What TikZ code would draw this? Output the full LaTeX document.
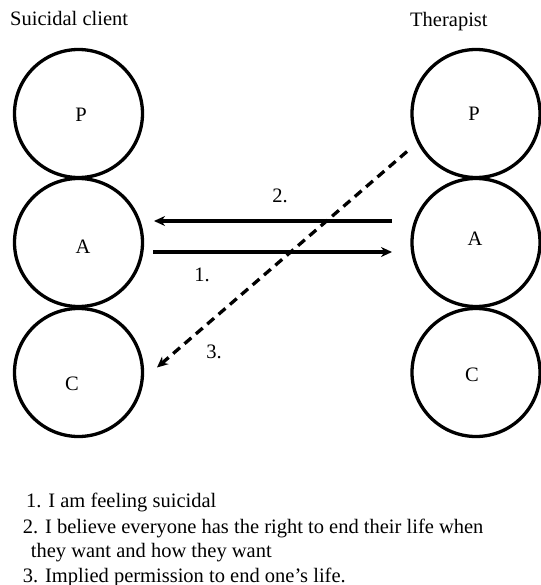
\documentclass[tikz,border=0pt]{standalone}
\usepackage{fontspec}
\setmainfont{Liberation Serif}
\usetikzlibrary{arrows.meta}

\begin{document}
\begin{tikzpicture}[x=1pt,y=-1pt,
    ego/.style={circle,draw,line width=3.3pt,minimum size=128pt,inner sep=0pt},
    txt/.style={font=\fontsize{20.5}{25}\selectfont,inner sep=0pt}]
        \useasboundingbox (0,0) rectangle (540,585);
        % ego states
        \node[ego] (LP) at (78.5,113.5) {};
        \node[ego] (LA) at (78.5,242.5) {};
        \node[ego] (LC) at (78.5,372.5) {};
        \node[ego] (RP) at (476,113.5) {};
        \node[ego] (RA) at (476,242.5) {};
        \node[ego] (RC) at (476,372.5) {};
        \node[txt] at (81,115) {P};
        \node[txt] at (83,247) {A};
        \node[txt] at (72,384) {C};
        \node[txt] at (474,114) {P};
        \node[txt] at (475,239) {A};
        \node[txt] at (472,375) {C};
        \node[txt,anchor=base west] (client) at (10,26) {Suicidal client};
        \node[txt,anchor=base west] (therapist) at (410,27) {Therapist};
        % transactions
        \coordinate (A1) at (153,252);
        \coordinate (B1) at (392,252);
        \coordinate (A2) at (392,221);
        \coordinate (B2) at (154,221);
        \coordinate (A3) at (407,151.5);
        \coordinate (B3) at (157,367.5);
        \begin{scope}[line width=3.3pt,-{Stealth[length=11pt,width=10pt]}]
            \draw (A1) -- (B1);
            \draw (A2) -- (B2);
            \draw[dash pattern=on 9pt off 6pt] (A3) -- (B3);
        \end{scope}
        \node[txt] at (202,275) {1.};
        \node[txt] at (280,196) {2.};
        \node[txt] at (214,352) {3.};
        % key
        \node[txt,anchor=base west] at (26,507.5) {1. I am feeling suicidal};
        \node[txt,anchor=base west] at (22.7,533) {2. I believe everyone has the right to end their life when};
        \node[txt,anchor=base west] at (30.7,557.5) {they want and how they want};
        \node[txt,anchor=base west] at (22.7,582) {3. Implied permission to end one’s life.};
    \end{tikzpicture}
\end{document}
